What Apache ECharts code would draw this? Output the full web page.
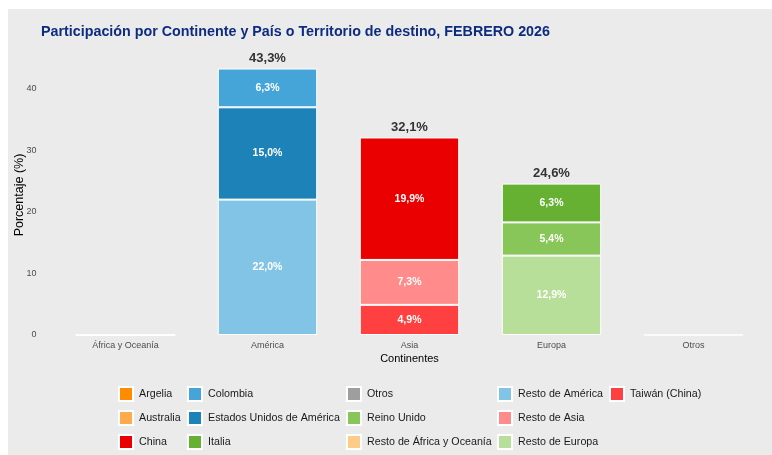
<!DOCTYPE html>
<html>
<head>
<meta charset="utf-8">
<script src="https://cdn.jsdelivr.net/npm/echarts@6/dist/echarts.min.js"></script>
<style>
  html, body { margin: 0; padding: 0; background: #ffffff; }
  #chart_participacion {
    position: absolute;
    left: 8px;
    top: 9px;
    width: 764px;
    height: 446px;
    background: #ebebeb;
  }
</style>
</head>
<body>
<div id="chart_participacion"></div>
<script>
// categorias del eje x
const categories = ['África y Oceanía', 'América', 'Asia', 'Europa', 'Otros'];

// valores por pais / territorio (porcentaje), null = no aplica
const argelia = [0, null, null, null, null];
const australia = [0, null, null, null, null];
const restoAfricaOceania = [0, null, null, null, null];
const restoAmerica = [null, 22.0, null, null, null];
const estadosUnidos = [null, 15.0, null, null, null];
const colombia = [null, 6.3, null, null, null];
const taiwan = [null, null, 4.9, null, null];
const restoAsia = [null, null, 7.3, null, null];
const china = [null, null, 19.9, null, null];
const restoEuropa = [null, null, null, 12.9, null];
const reinoUnido = [null, null, null, 5.4, null];
const italia = [null, null, null, 6.3, null];
const otros = [null, null, null, null, 0];

// totales por continente
const totals = [null, 43.3, 32.1, 24.6, null];

// ticks del eje y
const yTicks = [0, 10, 20, 30, 40];

const FONT = "'Liberation Sans', Arial, sans-serif";

function fmt(v) {
  return v.toFixed(1).replace('.', ',') + '%';
}

// orden de apilado: de abajo hacia arriba
const stackSeries = [
  { name: 'Argelia', data: argelia, color: '#ff8c00' },
  { name: 'Australia', data: australia, color: '#ffaa4d' },
  { name: 'Resto de África y Oceanía', data: restoAfricaOceania, color: '#ffcc88' },
  { name: 'Resto de América', data: restoAmerica, color: '#82c4e6' },
  { name: 'Estados Unidos de América', data: estadosUnidos, color: '#1c82b8' },
  { name: 'Colombia', data: colombia, color: '#45a5d8' },
  { name: 'Taiwán (China)', data: taiwan, color: '#ff4040' },
  { name: 'Resto de Asia', data: restoAsia, color: '#ff8b8b' },
  { name: 'China', data: china, color: '#ea0000' },
  { name: 'Resto de Europa', data: restoEuropa, color: '#b7df99' },
  { name: 'Reino Unido', data: reinoUnido, color: '#88c65a' },
  { name: 'Italia', data: italia, color: '#66b032' },
  { name: 'Otros', data: otros, color: '#9e9e9e' }
];

const series = stackSeries.map(s => ({
  name: s.name,
  type: 'bar',
  stack: 'total',
  barWidth: '70%',
  data: s.data.map(v => (v === null ? '-' : v)),
  itemStyle: { color: s.color, borderColor: '#ffffff', borderWidth: 1 },
  label: {
    show: true,
    position: 'inside',
    color: '#ffffff',
    fontWeight: 'bold',
    fontSize: 10.5,
    fontFamily: FONT,
    formatter: p => (p.value > 0 ? fmt(p.value) : '')
  },
  emphasis: { disabled: true }
}));

// serie invisible para los totales arriba de cada barra
series.push({
  name: 'Total',
  type: 'bar',
  stack: 'total',
  barWidth: '70%',
  data: totals.map(v => (v === null ? '-' : 0)),
  itemStyle: { color: 'transparent', borderWidth: 0 },
  label: {
    show: true,
    position: 'top',
    distance: 4,
    color: '#333333',
    fontWeight: 'bold',
    fontSize: 13,
    fontFamily: FONT,
    formatter: p => (totals[p.dataIndex] !== null ? fmt(totals[p.dataIndex]) : '')
  },
  emphasis: { disabled: true },
  silent: true
});

// leyenda por columnas (orden vertical como en el original)
const legendCols = [
  { left: 110, data: ['Argelia', 'Australia', 'China'] },
  { left: 179, data: ['Colombia', 'Estados Unidos de América', 'Italia'] },
  { left: 338, data: ['Otros', 'Reino Unido', 'Resto de África y Oceanía'] },
  { left: 489, data: ['Resto de América', 'Resto de Asia', 'Resto de Europa'] },
  { left: 601, data: ['Taiwán (China)'] }
];

const legends = legendCols.map(c => ({
  orient: 'vertical',
  left: c.left,
  top: 377,
  itemWidth: 14,
  itemHeight: 14,
  itemGap: 8,
  icon: 'rect',
  padding: 0,
  selectedMode: false,
  data: c.data,
  textStyle: {
    fontSize: 10.7,
    lineHeight: 12,
    color: '#1a1a1a',
    fontFamily: FONT,
    padding: [0, 0, 0, 1]
  }
}));

const myChart = echarts.init(document.getElementById('chart_participacion'));

const option = {
  backgroundColor: '#ebebeb',
  animation: false,
  title: {
    text: 'Participación por Continente y País o Territorio de destino, FEBRERO 2026',
    left: 28,
    top: 11,
    textStyle: {
      color: '#0d2c80',
      fontWeight: 'bold',
      fontSize: 14.3,
      fontFamily: FONT
    }
  },
  legend: legends,
  grid: {
    left: 46.5,
    right: 7.5,
    top: 46,
    bottom: 120,
    containLabel: false,
    outerBoundsMode: 'none'
  },
  xAxis: {
    type: 'category',
    data: categories,
    name: 'Continentes',
    nameLocation: 'middle',
    nameGap: 18,
    nameMoveOverlap: false,
    nameTextStyle: { color: '#000000', fontSize: 11, fontFamily: FONT },
    axisLine: { show: false },
    axisTick: { show: false },
    axisLabel: { color: '#4d4d4d', fontSize: 9, margin: 6, fontFamily: FONT },
    splitLine: { show: false }
  },
  yAxis: {
    type: 'value',
    min: 0,
    max: 45.5,
    interval: 10,
    name: 'Porcentaje (%)',
    nameLocation: 'middle',
    nameGap: 28,
    nameMoveOverlap: false,
    nameTextStyle: { color: '#000000', fontSize: 12.5, fontFamily: FONT },
    axisLine: { show: false },
    axisTick: { show: false },
    axisLabel: {
      color: '#4d4d4d',
      fontSize: 9,
      margin: 18,
      fontFamily: FONT,
      formatter: v => (yTicks.indexOf(v) >= 0 ? String(v) : '')
    },
    splitLine: { show: false }
  },
  series: series
};

myChart.setOption(option);

window.addEventListener('resize', function() {
  myChart.resize();
});
</script>
</body>
</html>
